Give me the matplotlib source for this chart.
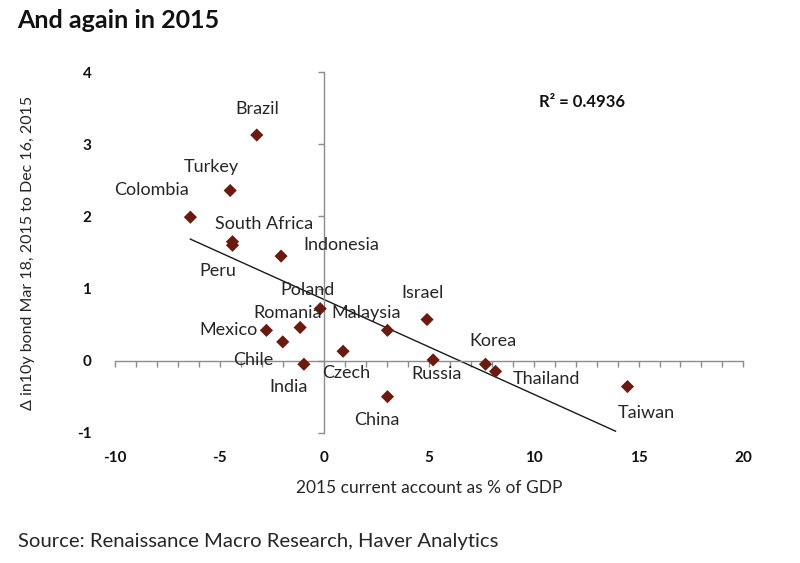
import numpy as np
import matplotlib
matplotlib.use("Agg")
import matplotlib.pyplot as plt
from matplotlib.ticker import MultipleLocator

countries = ["Brazil", "Turkey", "Colombia", "South Africa", "Peru", "Indonesia",
             "Poland", "Romania", "Mexico", "Chile", "India", "Czech", "Malaysia",
             "Israel", "Russia", "Korea", "Thailand", "China", "Taiwan"]
current_account = [-3.23, -4.50, -6.40, -4.39, -4.39, -2.07,
                   -0.20, -1.16, -2.77, -1.99, -0.98, 0.89, 3.01,
                   4.90, 5.19, 7.69, 8.17, 3.01, 14.47]
bond_change = [3.13, 2.36, 1.99, 1.65, 1.60, 1.45,
               0.72, 0.46, 0.42, 0.26, -0.05, 0.13, 0.42,
               0.57, 0.01, -0.05, -0.15, -0.50, -0.36]
# label offsets in pixels (dx right, dy up)
label_offsets = [(1, 26), (-19, 24), (-39, 27), (32, 18), (-15, -26), (60, 11),
                 (-13, 19), (-13, 14), (-38, 0), (-30, -18), (-15, -23), (3, -22), (-21, 17),
                 (-4, 27), (3, -14), (7, 23), (51, -8), (-11, -23), (19, -26)]
trend_range = [-6.4, 13.9]
r2_text = "R² = 0.4936"

plt.rcParams['font.family'] = ['Lato', 'DejaVu Sans']
plt.rcParams['axes.unicode_minus'] = False

W, H = 800, 563
fig = plt.figure(figsize=(W / 100, H / 100), dpi=100)

left, right_px, top_px, bot_px = 115, 743.3, 72.3, 432.7
rect = [left / W, (H - bot_px) / H, (right_px - left) / W, (bot_px - top_px) / H]

axis_col = '#8c8c8c'
text_col = '#262626'
marker_col = '#6b1a10'

# axes with spines crossing at zero
ax = fig.add_axes(rect)
ax.set_xlim(-10, 20)
ax.set_ylim(-1, 4)
ax.patch.set_visible(False)
for s in ['top', 'right']:
    ax.spines[s].set_visible(False)
ax.spines['left'].set_position(('data', 0))
ax.spines['bottom'].set_position(('data', 0))
ax.spines['left'].set_color(axis_col)
ax.spines['bottom'].set_color(axis_col)
ax.spines['left'].set_linewidth(1.0)
ax.spines['bottom'].set_linewidth(1.0)
ax.xaxis.set_major_locator(MultipleLocator(5))
ax.xaxis.set_minor_locator(MultipleLocator(1))
ax.yaxis.set_major_locator(MultipleLocator(1))
ax.tick_params(axis='x', which='both', direction='out', length=4, color=axis_col,
               width=1.0, labelbottom=False)
ax.tick_params(axis='y', which='both', direction='out', length=4, color=axis_col,
               width=1.0, labelleft=False)

# separate axes for tick labels at the frame edges
lab = fig.add_axes(rect, sharex=ax, sharey=ax)
lab.patch.set_visible(False)
for s in lab.spines.values():
    s.set_visible(False)
lab.tick_params(axis='both', which='both', length=0)
lab.tick_params(axis='x', pad=13)
lab.tick_params(axis='y', pad=17)
for t in lab.get_xticklabels() + lab.get_yticklabels():
    t.set_fontweight('bold')
    t.set_fontsize(11)
    t.set_color('#111111')
lab.set_xlabel("2015 current account as % of GDP", fontsize=12.5, color=text_col, labelpad=11)
lab.set_ylabel("Δ in10y bond Mar 18, 2015 to Dec 16, 2015", fontsize=11.5,
               color=text_col, labelpad=30)

x = np.array(current_account)
y = np.array(bond_change)
slope, intercept = np.polyfit(x, y, 1)
tx = np.array(trend_range)
ax.plot(tx, slope * tx + intercept, color='#1a1a1a', lw=1.0, zorder=2)

ax.scatter(x, y, marker='D', s=45, color=marker_col, edgecolors='none', zorder=3)

for name, xi, yi, (dx, dy) in zip(countries, current_account, bond_change, label_offsets):
    ax.annotate(name, (xi, yi), xytext=(dx * 0.72, dy * 0.72), textcoords='offset points',
                ha='center', va='center', fontsize=13, color=text_col, zorder=4)

fig.text(582 / W, 1 - 102 / H, r2_text, ha='center', va='center', fontsize=12,
         fontweight='bold', color='#111111')
fig.text(17 / W, 1 - 20 / H, "And again in 2015", ha='left', va='center', fontsize=18,
         fontweight='bold', color='#111111')
fig.text(18 / W, 1 - 541 / H, "Source: Renaissance Macro Research, Haver Analytics",
         ha='left', va='center', fontsize=14.6, color=text_col)

fig.savefig("out.png", dpi=100)
